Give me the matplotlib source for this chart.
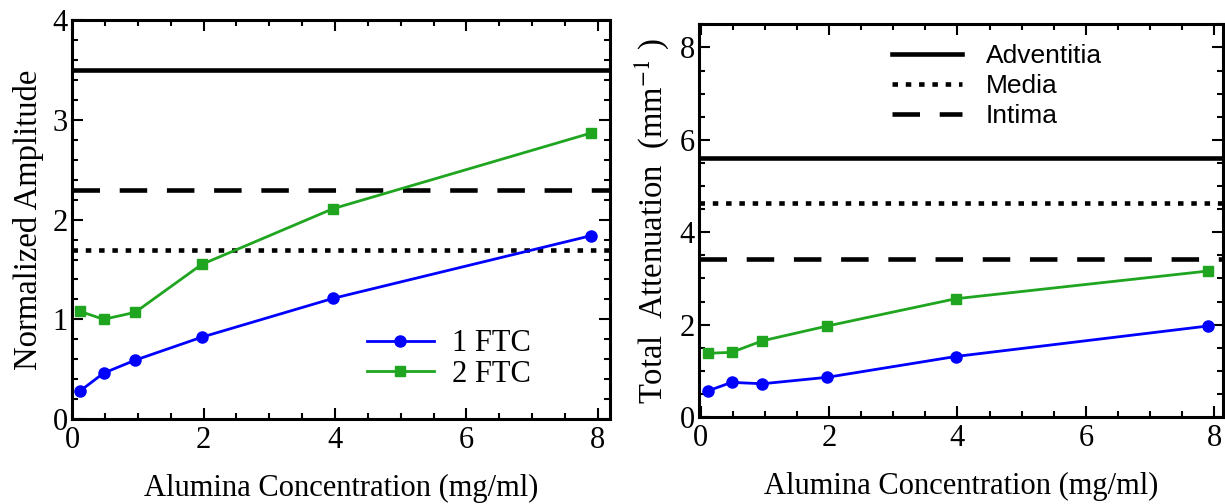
import matplotlib
matplotlib.use("Agg")
import matplotlib.pyplot as plt
from matplotlib.lines import Line2D
from matplotlib.ticker import MultipleLocator

# ---- data ----
conc = [0.12, 0.48, 0.96, 1.97, 3.97, 7.9]
amp_1ftc = [0.28, 0.46, 0.59, 0.82, 1.21, 1.84]
amp_2ftc = [1.08, 1.00, 1.07, 1.55, 2.11, 2.87]
att_1ftc = [0.57, 0.75, 0.72, 0.86, 1.31, 1.97]
att_2ftc = [1.38, 1.40, 1.65, 1.97, 2.56, 3.16]

tissue_names = ["Adventitia", "Media", "Intima"]
amp_tissue = [3.5, 1.70, 2.30]
att_tissue = [5.61, 4.63, 3.43]

series_names = ["1 FTC", "2 FTC"]

plt.rcParams['mathtext.fontset'] = 'stix'
SERIF = ['Liberation Serif', 'DejaVu Serif']
SANS = ['Liberation Sans', 'DejaVu Sans']

BLUE = '#0000ff'
GREEN = '#1fa51f'
tissue_styles = [dict(ls='-'), dict(ls=(0, (1.2, 1.7))), dict(ls=(0, (6, 4.3)))]

fig = plt.figure(figsize=(12.25, 5.04), dpi=100)
ax1 = fig.add_axes([0.0588, 0.1687, 0.439, 0.791])
ax2 = fig.add_axes([0.5705, 0.1726, 0.428, 0.779])


def style_axes(ax, xminor, yminor, ymajor):
    for s in ax.spines.values():
        s.set_linewidth(2.2)
    ax.xaxis.set_major_locator(MultipleLocator(2))
    ax.xaxis.set_minor_locator(MultipleLocator(xminor))
    ax.yaxis.set_major_locator(MultipleLocator(ymajor))
    ax.yaxis.set_minor_locator(MultipleLocator(yminor))
    ax.tick_params(which='both', direction='in', top=True, right=True,
                   labelsize=22, width=1.5)
    ax.tick_params(which='major', length=8)
    ax.tick_params(which='minor', length=4)
    for lab in ax.get_xticklabels() + ax.get_yticklabels():
        lab.set_family(SERIF)
    ax.tick_params(axis='x', pad=5)
    ax.tick_params(axis='y', pad=3)


# ---- left panel ----
for val, st in zip(amp_tissue, tissue_styles):
    ax1.axhline(val, color='black', lw=3.3, **st)
ax1.plot(conc, amp_1ftc, color=BLUE, lw=2, marker='o', ms=8)
ax1.plot(conc, amp_2ftc, color=GREEN, lw=2, marker='s', ms=7.5)
ax1.set_xlim(0, 8.18)
ax1.set_ylim(0, 4)
style_axes(ax1, 0.5, 0.2, 1)
ax1.set_xlabel('Alumina Concentration (mg/ml)', family=SERIF, fontsize=22, labelpad=14)
ax1.set_ylabel('Normalized Amplitude', family=SERIF, fontsize=23.5, labelpad=6)
h1 = [Line2D([], [], color=BLUE, lw=2, marker='o', ms=8),
      Line2D([], [], color=GREEN, lw=2, marker='s', ms=7.5)]
ax1.legend(h1, series_names, loc='upper left', bbox_to_anchor=(0.548, 0.225),
           frameon=False, prop={'family': SERIF, 'size': 22}, handlelength=2.2,
           handletextpad=0.6, labelspacing=0.05, borderpad=0, borderaxespad=0)

# ---- right panel ----
for val, st in zip(att_tissue, tissue_styles):
    ax2.axhline(val, color='black', lw=3.3, **st)
ax2.plot(conc, att_1ftc, color=BLUE, lw=2, marker='o', ms=8)
ax2.plot(conc, att_2ftc, color=GREEN, lw=2, marker='s', ms=7.5)
ax2.set_xlim(-0.03, 8.14)
ax2.set_ylim(0, 8.5)
style_axes(ax2, 0.5, 0.5, 2)
ax2.set_xlabel('Alumina Concentration (mg/ml)', family=SERIF, fontsize=22, labelpad=14)
ax2.set_ylabel('Total  Attenuation  (mm$^{-1}$ )', family=SERIF, fontsize=23.5, labelpad=6)
h2 = [Line2D([], [], color='black', lw=3.3, **st) for st in tissue_styles]
ax2.legend(h2, tissue_names, loc='upper left', bbox_to_anchor=(0.368, 0.949),
           frameon=False, prop={'family': SANS, 'size': 19}, handlelength=2.65,
           handletextpad=0.9, labelspacing=0.22, borderpad=0, borderaxespad=0)

fig.savefig('out.png', dpi=100)
